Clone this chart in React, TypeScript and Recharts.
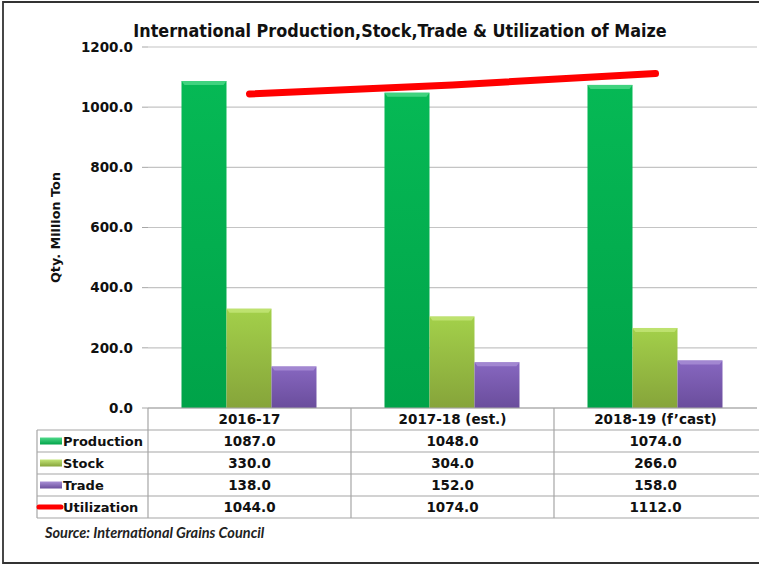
import React from 'react';
import { ComposedChart, Bar, Line, XAxis, YAxis, CartesianGrid, Label } from 'recharts';

const years = ['2016-17', '2017-18 (est.)', '2018-19 (f\u2019cast)'];
const production = [1087.0, 1048.0, 1074.0];
const stock = [330.0, 304.0, 266.0];
const trade = [138.0, 152.0, 158.0];
const utilization = [1044.0, 1074.0, 1112.0];
const yTicks = [0, 200, 400, 600, 800, 1000, 1200];

const data = years.map((year, i) => ({
  year,
  production: production[i],
  stock: stock[i],
  trade: trade[i],
  utilization: utilization[i],
}));

const W = 759;
const H = 565;
const PLOT_LEFT = 148;
const PLOT_RIGHT = 757;
const PLOT_TOP = 47;
const PLOT_BOTTOM = 408;
const ROW_H = 22;
const TABLE_LEFT = 37;

const FONT = "'DejaVu Sans', Verdana, sans-serif";

const rows = [
  { name: 'Production', values: production, kind: 'bar', grad: 'gProd' },
  { name: 'Stock', values: stock, kind: 'bar', grad: 'gStock' },
  { name: 'Trade', values: trade, kind: 'bar', grad: 'gTrade' },
  { name: 'Utilization', values: utilization, kind: 'line', grad: '' },
];

const BevelBar = (props: any) => {
  const { x, y, width, height, fill, top } = props;
  if (!height || height <= 0) return null;
  return (
    <g>
      <rect x={x} y={y} width={width} height={height} fill={fill} />
      <polygon
        points={`${x},${y} ${x + width},${y} ${x + width - 3},${y + 4} ${x + 3},${y + 4}`}
        fill={top}
        opacity={0.8}
      />
    </g>
  );
};

const YearTick = (props: any) => {
  const { x, y, payload } = props;
  return (
    <text x={x} y={y + 15.5} textAnchor="middle" fontFamily={FONT} fontWeight="bold" fontSize={13.5} fill="#111">
      {payload.value}
    </text>
  );
};

const Gradients = () => (
  <defs>
    <linearGradient id="gProd" x1="0" y1="0" x2="0" y2="1">
      <stop offset="0%" stopColor="#06b955" />
      <stop offset="100%" stopColor="#00a349" />
    </linearGradient>
    <linearGradient id="gStock" x1="0" y1="0" x2="0" y2="1">
      <stop offset="0%" stopColor="#a3d04a" />
      <stop offset="100%" stopColor="#86a43a" />
    </linearGradient>
    <linearGradient id="gTrade" x1="0" y1="0" x2="0" y2="1">
      <stop offset="0%" stopColor="#8767c0" />
      <stop offset="100%" stopColor="#6a4d9c" />
    </linearGradient>
  </defs>
);

export default function App() {
  const colW = (PLOT_RIGHT - PLOT_LEFT) / years.length;
  const tableBottom = PLOT_BOTTOM + ROW_H * (rows.length + 1);

  return (
    <div style={{ position: 'absolute', left: 0, top: 0, width: W, height: H, background: '#fff' }}>
      <ComposedChart
        width={W}
        height={H}
        data={data}
        margin={{ top: PLOT_TOP, right: W - PLOT_RIGHT, bottom: H - PLOT_BOTTOM - 30, left: 0 }}
        barCategoryGap="16.5%"
        barGap={0}
      >
        <Gradients />
        <CartesianGrid vertical={false} stroke="#c4c4c4" strokeWidth={1.2} />
        <XAxis
          dataKey="year"
          height={30}
          axisLine={{ stroke: '#a6a6a6', strokeWidth: 1.2 }}
          tickLine={false}
          tickSize={0}
          tickMargin={0}
          tick={<YearTick />}
          interval={0}
        />
        <YAxis
          width={PLOT_LEFT}
          domain={[0, 1200]}
          ticks={yTicks}
          interval={0}
          axisLine={false}
          tickLine={{ stroke: '#a6a6a6' }}
          tickSize={6}
          tickMargin={9}
          tickFormatter={(v: number) => v.toFixed(1)}
          tick={{ fontFamily: FONT, fontWeight: 'bold', fontSize: 13.5, fill: '#111' }}
        >
          <Label
            content={() => (
              <text
                x={60}
                y={(PLOT_TOP + PLOT_BOTTOM) / 2}
                transform={`rotate(-90 60 ${(PLOT_TOP + PLOT_BOTTOM) / 2})`}
                textAnchor="middle"
                fontFamily={FONT}
                fontWeight="bold"
                fontSize={12.8}
                fill="#111"
              >
                Qty. Million Ton
              </text>
            )}
          />
        </YAxis>
        <Bar dataKey="production" name="Production" fill="url(#gProd)" isAnimationActive={false}
          shape={(p: any) => <BevelBar {...p} top="#4fd98a" />} />
        <Bar dataKey="stock" name="Stock" fill="url(#gStock)" isAnimationActive={false}
          shape={(p: any) => <BevelBar {...p} top="#c4e678" />} />
        <Bar dataKey="trade" name="Trade" fill="url(#gTrade)" isAnimationActive={false}
          shape={(p: any) => <BevelBar {...p} top="#a990d6" />} />
        <Line
          dataKey="utilization"
          name="Utilization"
          type="linear"
          stroke="#ff0000"
          strokeWidth={7}
          strokeLinecap="round"
          dot={false}
          activeDot={false}
          isAnimationActive={false}
        />
      </ComposedChart>

      <svg width={W} height={H} style={{ position: 'absolute', left: 0, top: 0, pointerEvents: 'none' }}>
        {/* frame: right edge falls outside the picture */}
        <path d={`M ${W} 2 H 3 V 563 H ${W}`} fill="none" stroke="#333" strokeWidth={1.8} />
        <text x={400} y={36.5} textAnchor="middle" fontFamily="'DejaVu Sans Condensed', 'DejaVu Sans', sans-serif"
          fontWeight="bold" fontSize={17.8} fill="#111">
          International Production,Stock,Trade &amp; Utilization of Maize
        </text>

        {/* data table under the plot */}
        <line x1={PLOT_LEFT} y1={PLOT_BOTTOM} x2={PLOT_LEFT} y2={tableBottom} stroke="#a6a6a6" strokeWidth={1.2} />
        {years.map((_, i) =>
          i > 0 ? (
            <line key={i} x1={PLOT_LEFT + colW * i} y1={PLOT_BOTTOM} x2={PLOT_LEFT + colW * i} y2={tableBottom}
              stroke="#a6a6a6" strokeWidth={1.2} />
          ) : null
        )}
        <line x1={TABLE_LEFT} y1={PLOT_BOTTOM + ROW_H} x2={TABLE_LEFT} y2={tableBottom} stroke="#a6a6a6" strokeWidth={1.2} />
        {rows.map((r, ri) => {
          const yTop = PLOT_BOTTOM + ROW_H * (ri + 1);
          const cy = yTop + ROW_H / 2;
          return (
            <g key={r.name}>
              <line x1={TABLE_LEFT} y1={yTop} x2={W} y2={yTop} stroke="#a6a6a6" strokeWidth={1.2} />
              {r.kind === 'bar' ? (
                <rect x={40} y={cy - 3.5} width={22} height={7} fill={`url(#${r.grad}K)`} />
              ) : (
                <line x1={39} y1={cy} x2={61} y2={cy} stroke="#ff0000" strokeWidth={5} strokeLinecap="round" />
              )}
              <text x={63} y={cy + 4.7} fontFamily={FONT} fontWeight="bold" fontSize={13} fill="#111">
                {r.name}
              </text>
              {r.values.map((v, i) => (
                <text key={i} x={PLOT_LEFT + colW * (i + 0.5)} y={cy + 4.7} textAnchor="middle"
                  fontFamily={FONT} fontWeight="bold" fontSize={13.5} fill="#111">
                  {v.toFixed(1)}
                </text>
              ))}
            </g>
          );
        })}
        <line x1={TABLE_LEFT} y1={tableBottom} x2={W} y2={tableBottom} stroke="#a6a6a6" strokeWidth={1.2} />
        <defs>
          <linearGradient id="gProdK" x1="0" y1="0" x2="0" y2="1">
            <stop offset="0%" stopColor="#4fd98a" />
            <stop offset="100%" stopColor="#00a349" />
          </linearGradient>
          <linearGradient id="gStockK" x1="0" y1="0" x2="0" y2="1">
            <stop offset="0%" stopColor="#c4e678" />
            <stop offset="100%" stopColor="#86a43a" />
          </linearGradient>
          <linearGradient id="gTradeK" x1="0" y1="0" x2="0" y2="1">
            <stop offset="0%" stopColor="#a990d6" />
            <stop offset="100%" stopColor="#6a4d9c" />
          </linearGradient>
        </defs>

        <text x={45} y={537.5} fontFamily="Lato, 'Liberation Sans', sans-serif" fontStyle="italic" fontWeight="bold"
          fontSize={14.5} fill="#222">
          Source: International Grains Council
        </text>
      </svg>
    </div>
  );
}
